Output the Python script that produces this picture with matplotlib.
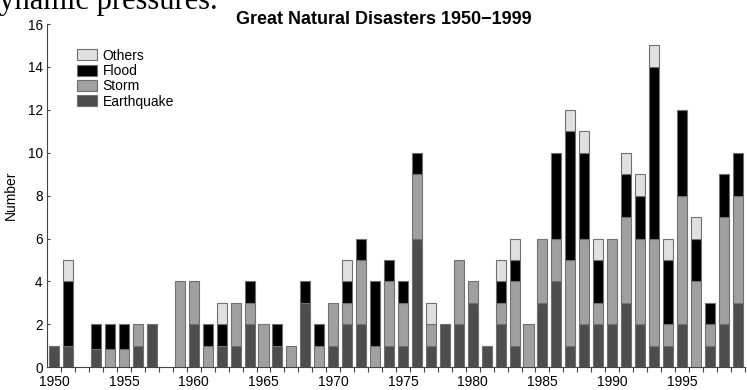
import numpy as np
import matplotlib
matplotlib.use("Agg")
import matplotlib.pyplot as plt
import matplotlib.transforms as mtransforms
from matplotlib.patches import Patch

years = np.arange(1950, 2000)
earthquake = [1, 1, 0, 0.85, 0, 0, 1, 2, 0, 0,
              2, 0, 1, 1, 2, 0, 1, 0, 3, 0,
              1, 2, 2, 0, 1, 1, 6, 1, 2, 2,
              3, 1, 2, 1, 0, 3, 4, 1, 2, 2,
              2, 3, 2, 1, 1, 2, 0, 1, 2, 3]
storm = [0, 0, 0, 0, 0.87, 0.87, 1, 0, 0, 4,
         2, 1, 0, 2, 1, 2, 0, 1, 0, 1,
         2, 1, 3, 1, 3, 2, 3, 1, 0, 3,
         1, 0, 1, 3, 2, 3, 2, 4, 4, 1,
         4, 4, 4, 5, 1, 6, 4, 1, 5, 5]
flood = [0, 3, 0, 1.15, 1.13, 1.13, 0, 0, 0, 0,
         0, 1, 1, 0, 1, 0, 1, 0, 1, 1,
         0, 1, 1, 3, 1, 1, 1, 0, 0, 0,
         0, 0, 1, 1, 0, 0, 4, 6, 4, 2,
         0, 2, 2, 8, 3, 4, 2, 1, 2, 2]
others = [0, 1, 0, 0, 0, 0, 0, 0, 0, 0,
          0, 0, 1, 0, 0, 0, 0, 0, 0, 0,
          0, 1, 0, 0, 0, 0, 0, 1, 0, 0,
          0, 0, 1, 1, 0, 0, 0, 1, 1, 1,
          0, 1, 1, 1, 1, 0, 1, 0, 0, 0]

series_names = ["Earthquake", "Storm", "Flood", "Others"]
series_colors = ["#4d4d4d", "#a0a0a0", "#000000", "#e0e0e0"]
series_values = [earthquake, storm, flood, others]

title = "Great Natural Disasters 1950\u22121999"
ylabel = "Number"
label_years = np.arange(1950, 2000, 5)
yticks = np.arange(0, 17, 2)

W, H = 747, 390
fig = plt.figure(figsize=(W / 100, H / 100), dpi=100)
plt.rcParams['font.family'] = ['Liberation Sans', 'DejaVu Sans']

ax_left, ax_right = 46.7, 744.7
ax_bottom, ax_top = 367.3, 24.0
ax = fig.add_axes([ax_left / W, (H - ax_bottom) / H,
                   (ax_right - ax_left) / W, (ax_bottom - ax_top) / H])

edge = "#707070"
bottom = np.zeros(len(years))
for name, col, vals in zip(series_names, series_colors, series_values):
    v = np.asarray(vals, dtype=float)
    m = v > 0
    ax.bar(years[m], v[m], bottom=bottom[m], width=0.72, color=col,
           edgecolor=edge, linewidth=0.8, zorder=3)
    bottom += v

ax.set_xlim(1949.455, 1999.5)
ax.set_ylim(0, 16)

for s in ["top", "right"]:
    ax.spines[s].set_visible(False)
for s in ["left", "bottom"]:
    ax.spines[s].set_color("#444444")
    ax.spines[s].set_linewidth(0.8)

ax.set_yticks(yticks)
ax.tick_params(axis="y", direction="in", length=2.4, width=0.8,
               color="#444444", pad=2.9, labelsize=9.8)
ax.set_xticks(label_years)
ax.set_xticklabels([str(y) for y in label_years])
ax.tick_params(axis="x", which="major", length=0, pad=5.8, labelsize=10)
ax.set_xticks(np.arange(1950.5, 2000, 1), minor=True)
ax.tick_params(axis="x", which="minor", direction="out", length=3.6,
               width=0.8, color="#444444")

ax.set_ylabel(ylabel, fontsize=10)
ax.yaxis.set_label_coords(
    17.5 / W, 0.5,
    transform=mtransforms.blended_transform_factory(fig.transFigure, ax.transAxes))

fig.text(384 / W, 1 - 24.5 / H, title, ha="center",
         va="baseline", fontsize=13, fontweight="bold")

fig.text(218 / W, 1 - 9.5 / H, "dynamic pressures.", ha="right",
         va="baseline", fontsize=22, family=["Liberation Serif", "DejaVu Serif"])

handles = [Patch(facecolor=c, edgecolor=edge, linewidth=0.8, label=n)
           for n, c in zip(series_names, series_colors)][::-1]
ax.legend(handles=handles, loc="upper left", frameon=False, fontsize=10,
          bbox_to_anchor=(76.7 / W, 1 - 48.5 / H), bbox_transform=fig.transFigure,
          borderpad=0, borderaxespad=0, handlelength=1.48, handleheight=0.84,
          handletextpad=0.39, labelspacing=0.1)

fig.savefig("out.png", dpi=100)
